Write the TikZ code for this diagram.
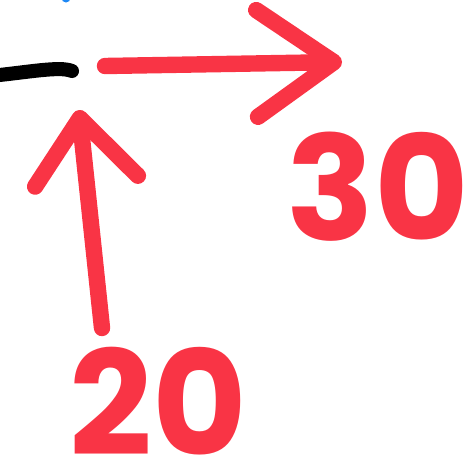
\documentclass[tikz,border=0pt]{standalone}
\usepackage{fontspec}
\setmainfont{Poppins}
\usepackage{xcolor}
\usepackage{tikz}
\usetikzlibrary{arrows.meta, positioning, calc}

\definecolor{penred}{HTML}{F93445}
\definecolor{penblue}{HTML}{1E88F5}

\begin{document}
\begin{tikzpicture}[
  x=0.03cm, y=-0.03cm,
  stroke/.style={line width=14pt, line cap=round, line join=round},
  redpen/.style={stroke, draw=penred},
  inkpen/.style={stroke, line width=12pt, draw=black},
  num/.style={text=penred, inner sep=0pt, anchor=base, font=\fontsize{124}{124}\selectfont\bfseries},
]
\useasboundingbox (0,0) rectangle (473,471);

% stray blue dot
\fill[penblue] (66,-2) circle (4.5);

% black stroke
\coordinate (wleft)  at (-10,76);
\coordinate (wright) at (72,71);
\draw[inkpen] (wleft) .. controls (30,72) and (60,66) .. (wright);

% right arrow
\coordinate (htail) at (105,66);
\coordinate (htip)  at (342,62);
\draw[redpen, -{Straight Barb[length=2.3cm, width=3.2cm, round]}] (htail) -- (htip);
\node[num] (l30) at (378,240) {30};

% up arrow
\coordinate (vtail) at (102,328);
\coordinate (vtip)  at (79,110);
\draw[redpen, -{Straight Barb[length=1.9cm, width=3.1cm, round]}] (vtail) -- (vtip);
\node[num] (l20) at (158,455) {20};

\end{tikzpicture}
\end{document}
